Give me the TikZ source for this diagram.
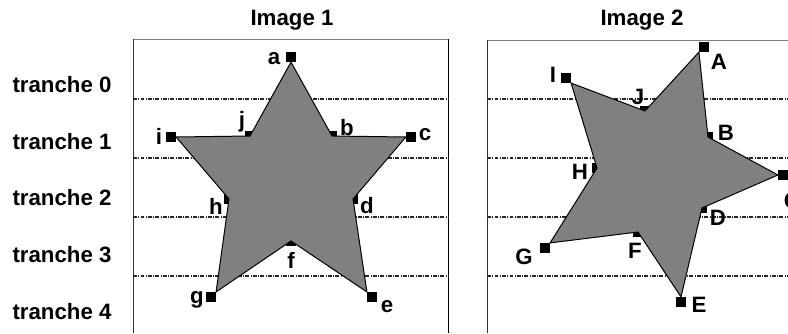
\documentclass[tikz,border=0pt]{standalone}
\usepackage{fontspec}
\setmainfont{Liberation Sans}

\begin{document}
\begin{tikzpicture}[x=0.03cm,y=-0.03cm,
  mark node/.style={rectangle,fill=black,minimum size=8.3pt,inner sep=0pt},
  txt/.style={font=\fontsize{19}{22}\selectfont\bfseries,inner sep=0pt},
  slice line/.style={black!85,line width=0.9pt,dash pattern=on 3.4pt off 1pt on 1pt off 1pt},
  frame line/.style={line width=0.85pt},
  star/.style={fill=black!50,draw=black,line width=0.85pt,line join=miter}]

\useasboundingbox (0,0) rectangle (788,333);
\clip (0,0) rectangle (788,333);

% frames
\draw[frame line,draw=black!50] (133,39) -- (448,39);
\draw[frame line,draw=black!80] (133,39) -- (133,333);
\draw[frame line] (448,39) -- (448,333);
\draw[frame line,draw=black!50] (487,40) -- (800,40);
\draw[frame line,draw=black!80] (487,40) -- (487,333);

% slices
\draw[slice line] (133,99) -- (448,99);
\draw[slice line] (133,158) -- (448,158);
\draw[slice line] (133,217) -- (448,217);
\draw[slice line] (133,276) -- (448,276);
\draw[slice line] (487,99) -- (788,99);
\draw[slice line] (487,158) -- (788,158);
\draw[slice line] (487,217) -- (788,217);
\draw[slice line] (487,276) -- (788,276);

\node[txt] (img1) at (292,20) {Image 1};
\node[txt] (img2) at (642,20) {Image 2};
\node[txt] (t0) at (62,85) {tranche 0};
\node[txt] (t1) at (62,142) {tranche 1};
\node[txt] (t2) at (62,198) {tranche 2};
\node[txt] (t3) at (62,255) {tranche 3};
\node[txt] (t4) at (62,312) {tranche 4};

% image 1
\node[mark node] (a) at (291,57) {};
\node[mark node] (b) at (332,136) {};
\node[mark node] (c) at (411,137) {};
\node[mark node] (d) at (353,199) {};
\node[mark node] (e) at (372,297) {};
\node[mark node] (f) at (291,241) {};
\node[mark node] (g) at (211,297) {};
\node[mark node] (h) at (229,199) {};
\node[mark node] (i) at (171,137) {};
\node[mark node] (j) at (250,136) {};
\draw[star] (a.south) -- (b.center) -- (c.west) -- (d.center) -- (e.north west)
  -- (f.center) -- (g.north east) -- (h.center) -- (i.east) -- (j.center) -- cycle;

\node[txt] (la) at (274,59) {a};
\node[txt] (lb) at (347,128) {b};
\node[txt] (lc) at (425,135) {c};
\node[txt] (ld) at (367,206) {d};
\node[txt] (le) at (387,307) {e};
\node[txt] (lf) at (291,260) {f};
\node[txt] (lg) at (197,300) {g};
\node[txt] (lh) at (216,206) {h};
\node[txt] (li) at (159,136) {i};
\node[txt] (lj) at (242,122) {j};

% image 2
\node[mark node] (A) at (704,47) {};
\node[mark node] (B) at (708,137) {};
\node[mark node] (C) at (783,175) {};
\node[mark node] (D) at (702,208) {};
\node[mark node] (E) at (681,302) {};
\node[mark node] (F) at (638,232) {};
\node[mark node] (G) at (545,248) {};
\node[mark node] (H) at (597,168) {};
\node[mark node] (I) at (566,78) {};
\node[mark node] (J) at (645,111) {};
\draw[star] (A.south west) -- (B.center) -- (C.west) -- (D.center) -- (E.north)
  -- (F.center) -- (G.north east) -- (H.center) -- (I.south east) -- (J.center) -- cycle;

\node[txt] (lA) at (719,62) {A};
\node[txt] (lB) at (726,133) {B};
\node[txt] (lC) at (792,201) {C};
\node[txt] (lD) at (718,218) {D};
\node[txt] (lE) at (699,305) {E};
\node[txt] (lF) at (635,251) {F};
\node[txt] (lG) at (524,257) {G};
\node[txt] (lH) at (580,172) {H};
\node[txt] (lI) at (553,75) {I};
\node[txt] (lJ) at (638,97) {J};
\end{tikzpicture}
\end{document}
